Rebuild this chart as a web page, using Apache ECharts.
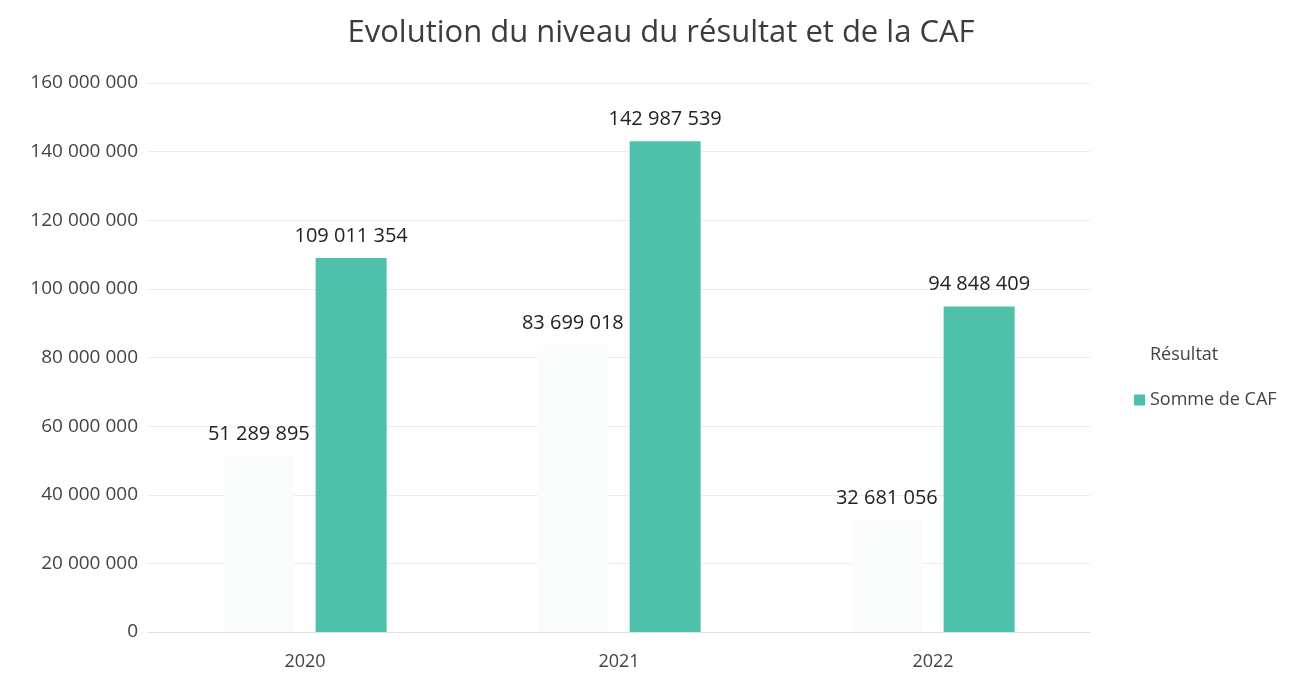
<!DOCTYPE html>
<html><head><meta charset="utf-8">
<script src="https://cdn.jsdelivr.net/npm/echarts@6/dist/echarts.min.js"></script>
<style>html,body{margin:0;padding:0;background:#fff}#c{width:1291px;height:673px}</style>
</head><body><div id="c"></div>
<script>
const categories = ['2020', '2021', '2022'];
const resultat = [51289895, 83699018, 32681056];
const caf = [109011354, 142987539, 94848409];
const yTicks = [0, 20000000, 40000000, 60000000, 80000000, 100000000, 120000000, 140000000, 160000000];

function fmt(v) {
  return String(Math.round(v)).replace(/\B(?=(\d{3})+(?!\d))/g, ' ');
}
const FONT = '"Open Sans", Lato, sans-serif';
const chart = echarts.init(document.getElementById('c'));
chart.setOption({
  animation: false,
  title: {
    text: 'Evolution du niveau du résultat et de la CAF',
    left: 656, top: 13, textAlign: 'center',
    textStyle: { fontFamily: FONT, fontSize: 31, fontWeight: 'normal', color: '#3c3c3c' }
  },
  grid: { left: 148, right: 201, top: 83, bottom: 41 },
  legend: {
    orient: 'vertical', left: 1129, top: 341, itemGap: 27,
    itemWidth: 11, itemHeight: 11, icon: 'rect',
    textStyle: { fontFamily: FONT, fontSize: 18, color: '#444' },
    data: [
      { name: 'Résultat', itemStyle: { color: '#ffffff' } },
      { name: 'Somme de CAF' }
    ]
  },
  xAxis: {
    type: 'category', data: categories,
    axisTick: { show: false },
    axisLine: { lineStyle: { color: '#e0e0e0' } },
    axisLabel: { fontFamily: FONT, fontSize: 18, color: '#444', margin: 21 }
  },
  yAxis: {
    type: 'value', min: yTicks[0], max: yTicks[yTicks.length - 1], interval: 20000000,
    axisLabel: { fontFamily: FONT, fontSize: 19, color: '#444', margin: 10, formatter: v => fmt(v) },
    splitLine: { lineStyle: { color: '#ececec' } }
  },
  series: [
    {
      name: 'Résultat', type: 'bar', data: resultat,
      barGap: '30%', barCategoryGap: '48%',
      itemStyle: { color: '#fbfcfc' },
      label: { show: true, position: 'top', distance: 12, formatter: p => fmt(p.value),
        fontFamily: FONT, fontSize: 20, color: '#222' }
    },
    {
      name: 'Somme de CAF', type: 'bar', data: caf,
      itemStyle: { color: '#4fc1aa' },
      label: { show: true, position: 'top', distance: 12, formatter: p => fmt(p.value),
        fontFamily: FONT, fontSize: 20, color: '#222' }
    }
  ]
});
</script></body></html>
